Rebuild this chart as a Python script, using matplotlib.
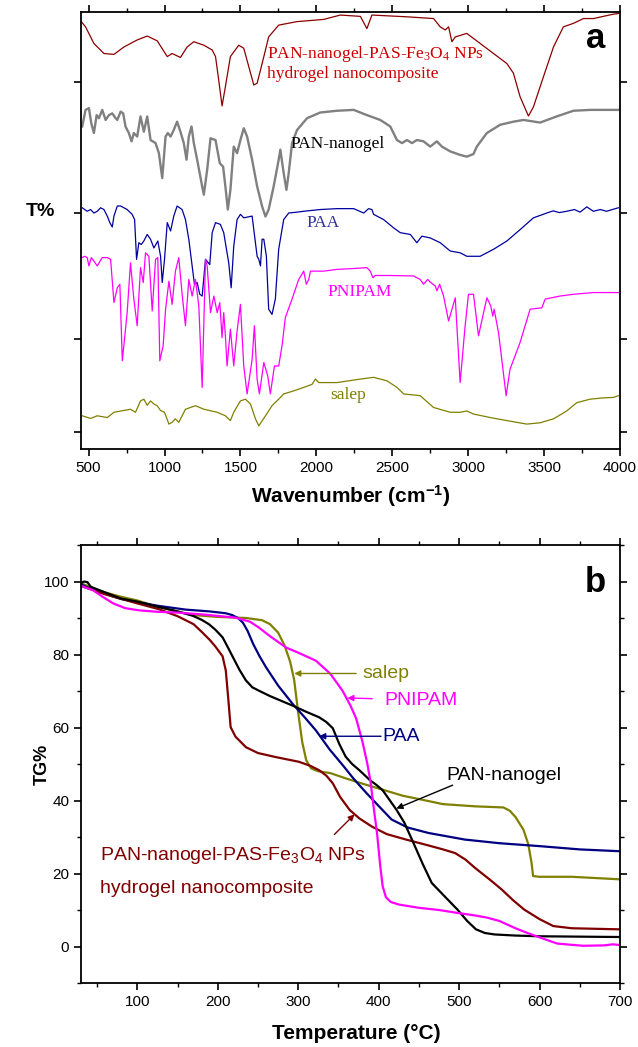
import matplotlib
matplotlib.use('Agg')
import matplotlib.pyplot as plt
from matplotlib.ticker import MultipleLocator, FixedLocator, NullFormatter

plt.rcParams['font.family'] = ['Liberation Sans', 'DejaVu Sans']

# ---------------- FTIR data (panel a) ----------------
comp_w = [447, 480, 535, 601, 667, 733, 820, 886, 952, 1018, 1050, 1105, 1149, 1193, 1259, 1314, 1336, 1357,
          1379, 1401, 1434, 1489, 1522, 1555, 1588, 1610, 1643, 1686, 1752, 1873, 2048, 2158, 2290, 2333, 2366,
          2597, 2772, 2816, 2849, 2871, 2893, 2915, 2991, 3079, 3167, 3255, 3298, 3342, 3397, 3430, 3496, 3562,
          3627, 3693, 3759, 3825, 3890, 3956, 4000]
comp_t = [98.0, 96.6, 92.8, 90.5, 90.3, 92.0, 93.6, 94.5, 93.4, 89.8, 90.5, 89.6, 92.0, 93.2, 92.4, 91.3, 89.8,
          84.4, 78.5, 82.9, 89.8, 92.4, 91.7, 87.5, 83.3, 83.7, 88.2, 94.3, 97.0, 97.8, 98.3, 99.3, 99.0, 96.2,
          99.3, 98.9, 98.5, 96.6, 95.9, 96.6, 93.2, 94.3, 95.1, 92.8, 90.5, 88.2, 86.0, 80.6, 76.2, 78.3, 85.2,
          92.0, 96.6, 97.4, 98.5, 98.5, 99.0, 99.5, 99.7]

pan_w = [458, 480, 502, 518, 535, 553, 568, 590, 612, 634, 656, 678, 689, 711, 728, 743, 765, 783, 798, 820,
         842, 864, 886, 908, 941, 963, 985, 1007, 1022, 1040, 1061, 1083, 1105, 1127, 1145, 1160, 1178, 1193,
         1215, 1248, 1259, 1281, 1303, 1336, 1364, 1386, 1401, 1417, 1434, 1456, 1478, 1500, 1522, 1544, 1577,
         1610, 1643, 1665, 1686, 1719, 1752, 1763, 1785, 1803, 1818, 1840, 1873, 1939, 2026, 2136, 2246, 2333,
         2421, 2487, 2531, 2564, 2597, 2630, 2662, 2706, 2750, 2794, 2827, 2882, 2947, 2991, 3035, 3057, 3123,
         3211, 3298, 3364, 3474, 3583, 3693, 3803, 4000]
pan_t = [73.8, 77.6, 78.0, 74.5, 72.3, 76.4, 75.7, 77.6, 75.3, 76.4, 76.8, 75.7, 75.3, 77.2, 76.8, 73.8, 72.3,
         70.4, 72.3, 71.5, 76.1, 72.6, 76.1, 70.7, 70.0, 67.7, 62.0, 71.5, 72.3, 71.5, 73.0, 74.9, 72.6, 70.0,
         66.2, 71.5, 73.8, 70.0, 66.2, 60.1, 58.2, 63.9, 71.1, 70.7, 65.4, 64.6, 60.1, 54.8, 59.3, 69.2, 67.7,
         70.7, 73.4, 71.5, 66.2, 60.1, 55.5, 53.2, 54.8, 60.1, 66.2, 68.5, 63.1, 59.3, 63.1, 70.0, 73.0, 75.7,
         77.0, 77.4, 77.6, 76.4, 75.3, 73.8, 70.7, 70.0, 70.7, 70.0, 70.7, 70.4, 69.2, 70.4, 69.2, 68.1, 67.3,
         66.9, 67.5, 69.2, 72.3, 74.2, 74.9, 75.3, 74.7, 76.1, 77.4, 77.6, 77.6]

paa_w = [458, 491, 513, 535, 557, 579, 601, 623, 640, 656, 667, 689, 711, 754, 787, 803, 816, 831, 847, 864,
         886, 908, 930, 956, 974, 985, 1000, 1018, 1040, 1061, 1083, 1116, 1138, 1160, 1182, 1197, 1215, 1232,
         1248, 1270, 1298, 1314, 1336, 1368, 1390, 1423, 1439, 1456, 1478, 1500, 1522, 1577, 1610, 1621, 1632,
         1643, 1654, 1671, 1686, 1708, 1730, 1752, 1785, 1818, 1873, 1917, 2026, 2136, 2246, 2312, 2344, 2366,
         2377, 2443, 2509, 2553, 2619, 2662, 2695, 2750, 2816, 2882, 2947, 2991, 3079, 3167, 3255, 3342, 3430,
         3518, 3560, 3600, 3649, 3700, 3737, 3781, 3825, 3870, 3912, 3950, 3989]
paa_t = [55.2, 54.4, 54.8, 54.0, 54.4, 55.2, 54.8, 53.3, 51.8, 50.8, 53.3, 55.6, 55.6, 54.8, 53.7, 52.5, 43.4,
         47.2, 46.8, 47.6, 49.1, 48.0, 46.0, 47.6, 44.1, 38.1, 43.4, 51.8, 49.9, 53.3, 55.6, 54.8, 52.5, 48.0,
         41.9, 37.7, 38.1, 35.4, 35.0, 43.4, 42.2, 49.5, 51.8, 51.4, 49.5, 42.6, 36.9, 46.4, 52.5, 53.7, 52.9,
         53.3, 44.1, 43.4, 41.9, 48.0, 48.0, 44.1, 32.0, 30.8, 34.3, 45.7, 52.5, 54.0, 54.2, 54.4, 54.8, 55.0,
         55.0, 54.0, 55.0, 54.8, 53.7, 52.5, 50.6, 49.5, 49.1, 47.2, 48.7, 48.3, 47.2, 45.3, 44.9, 44.1, 44.1,
         45.7, 47.6, 50.2, 52.9, 54.0, 54.5, 54.1, 54.4, 54.8, 54.2, 55.4, 54.4, 54.8, 54.4, 54.8, 55.2]

pni_w = [458, 474, 491, 502, 518, 535, 557, 590, 623, 645, 667, 689, 706, 722, 754, 776, 798, 820, 842, 860,
         875, 897, 919, 941, 956, 969, 991, 1007, 1029, 1050, 1072, 1094, 1116, 1138, 1160, 1182, 1204, 1226,
         1248, 1270, 1281, 1303, 1325, 1347, 1364, 1379, 1390, 1401, 1412, 1434, 1456, 1478, 1500, 1522, 1544,
         1577, 1592, 1610, 1625, 1654, 1680, 1697, 1724, 1752, 1774, 1796, 1840, 1884, 1917, 1934, 1950, 1961,
         2048, 2136, 2246, 2333, 2355, 2373, 2388, 2487, 2640, 2684, 2706, 2733, 2750, 2783, 2794, 2812, 2838,
         2871, 2915, 2947, 2980, 3002, 3035, 3068, 3123, 3149, 3162, 3171, 3200, 3250, 3276, 3342, 3408, 3485,
         3507, 3605, 3693, 3825, 3989]
pni_t = [43.8, 44.1, 43.8, 41.9, 43.8, 43.0, 41.9, 43.8, 43.8, 43.4, 33.5, 36.9, 37.7, 20.2, 31.2, 42.6, 34.3,
         28.2, 41.5, 38.1, 44.9, 44.1, 31.6, 43.4, 43.8, 20.2, 23.6, 32.0, 38.4, 33.1, 40.7, 43.8, 35.4, 28.2,
         38.8, 35.0, 38.8, 32.7, 14.1, 43.4, 41.9, 31.2, 35.0, 31.2, 33.5, 25.5, 31.2, 25.9, 19.0, 27.4, 19.0,
         27.0, 33.1, 19.0, 12.6, 20.5, 28.2, 16.0, 12.6, 19.8, 16.7, 12.6, 19.0, 19.0, 23.6, 30.1, 34.3, 38.8,
         40.7, 37.7, 38.8, 40.7, 40.7, 41.1, 41.3, 41.5, 40.7, 39.2, 39.7, 39.7, 39.6, 38.8, 37.7, 38.8, 38.2,
         37.3, 36.2, 37.7, 35.0, 29.3, 34.6, 15.2, 28.2, 35.4, 35.4, 25.9, 34.6, 32.7, 30.4, 32.0, 26.6, 12.2,
         18.3, 24.4, 32.0, 32.3, 34.3, 35.0, 35.4, 35.8, 35.8]

sal_w = [458, 513, 557, 623, 667, 776, 809, 842, 864, 886, 908, 930, 952, 974, 1000, 1029, 1050, 1072, 1094,
         1138, 1204, 1259, 1347, 1401, 1434, 1456, 1500, 1533, 1566, 1599, 1621, 1665, 1708, 1752, 1785, 1851,
         1917, 1972, 1994, 2016, 2136, 2290, 2377, 2465, 2531, 2575, 2684, 2772, 2882, 2947, 2991, 3035, 3145,
         3255, 3386, 3474, 3562, 3649, 3715, 3803, 3890, 3956, 3989]
sal_t = [7.6, 7.0, 7.6, 7.2, 8.4, 9.1, 8.4, 11.0, 11.4, 10.0, 11.0, 10.3, 9.9, 8.8, 8.4, 5.7, 6.1, 6.9, 6.1,
         9.1, 9.9, 9.1, 8.4, 7.6, 6.5, 8.4, 11.0, 11.4, 10.3, 6.9, 5.3, 7.6, 9.9, 11.4, 12.6, 13.3, 14.1, 14.8,
         16.0, 15.2, 15.2, 16.0, 16.4, 15.6, 14.1, 12.6, 12.2, 9.5, 8.4, 8.4, 8.7, 8.0, 7.2, 6.5, 5.7, 6.0, 6.9,
         8.7, 10.6, 11.4, 11.7, 11.8, 12.2]

wn_ticks = [500, 1000, 1500, 2000, 2500, 3000, 3500, 4000]

# ---------------- TG data (panel b) ----------------
sal_T = [30, 40, 60, 80, 100, 125, 150, 170, 200, 235, 255, 265, 275, 283, 290, 295, 300, 305, 310, 316, 325,
         340, 360, 380, 400, 430, 450, 480, 520, 555, 563, 570, 580, 586, 590, 592, 600, 640, 700]
sal_G = [99.5, 98.6, 97.0, 95.8, 94.8, 93.1, 91.8, 90.8, 90.3, 90.0, 89.4, 88.3, 86.0, 82.5, 78.0, 73.0, 64.0,
         56.0, 51.0, 48.8, 48.0, 47.5, 46.0, 44.6, 43.3, 41.3, 40.4, 39.0, 38.4, 38.1, 37.2, 35.5, 32.0, 28.0,
         23.0, 19.3, 19.1, 19.1, 18.4]

pni_T = [30, 45, 57, 70, 85, 102, 125, 148, 180, 222, 240, 251, 265, 285, 300, 322, 340, 355, 365, 372, 380,
         386, 390, 393, 398, 402, 405, 409, 415, 425, 450, 475, 498, 520, 535, 550, 570, 585, 600, 622, 654, 680,
         691, 700]
pni_G = [98.8, 97.6, 95.8, 94.0, 92.7, 92.1, 91.7, 91.5, 91.0, 90.1, 89.0, 87.4, 85.0, 81.9, 80.5, 78.3, 74.7,
         70.1, 66.0, 62.5, 56.0, 50.0, 45.0, 39.5, 31.0, 22.0, 16.5, 13.5, 12.2, 11.5, 10.6, 10.0, 9.2, 8.5, 7.9,
         7.0, 5.0, 3.7, 2.5, 0.8, 0.2, 0.3, 0.6, 0.4]

paa_T = [30, 44, 60, 80, 100, 127, 160, 190, 210, 218, 225, 231, 237, 244, 252, 260, 275, 293, 308, 322, 339,
         356, 368, 376, 385, 397, 416, 436, 462, 507, 550, 600, 650, 700]
paa_G = [99.2, 97.8, 96.6, 95.2, 94.3, 93.3, 92.3, 91.8, 91.3, 90.8, 90.0, 88.8, 86.5, 82.9, 79.5, 76.5, 71.5,
         66.5, 62.8, 59.2, 54.0, 49.5, 46.2, 44.2, 42.0, 39.2, 34.8, 32.6, 31.1, 29.3, 28.3, 27.5, 26.6, 26.1]

pan_T = [30, 34, 38, 42, 46, 60, 80, 100, 127, 150, 169, 180, 189, 197, 206, 212, 219, 227, 235, 243, 251,
         265, 280, 293, 310, 326, 335, 343, 351, 359, 367, 376, 389, 397, 405, 414, 422, 432, 445, 455, 466, 480,
         498, 510, 521, 532, 544, 570, 600, 700]
pan_G = [99.6, 100.0, 99.8, 98.6, 98.2, 97.0, 95.3, 94.5, 93.0, 91.8, 90.6, 89.5, 88.3, 86.8, 84.7, 82.2, 79.2,
         75.8, 72.9, 71.0, 70.1, 68.6, 67.2, 66.0, 64.3, 62.8, 61.5, 59.8, 55.5, 52.0, 50.0, 48.3, 45.6, 44.3,
         42.8, 40.0, 37.5, 33.9, 27.5, 22.5, 17.4, 14.2, 10.1, 7.0, 4.7, 3.7, 3.3, 3.0, 2.8, 2.6]

cmp_T = [30, 60, 100, 127, 150, 170, 181, 190, 197, 201, 206, 210, 213, 216, 222, 235, 250, 272, 301, 315, 326,
         335, 343, 352, 364, 376, 392, 410, 434, 460, 480, 495, 508, 520, 540, 553, 567, 581, 600, 617, 640, 700]
cmp_G = [98.8, 96.5, 94.0, 92.4, 90.5, 88.3, 86.0, 84.0, 82.2, 81.0, 79.5, 75.6, 68.0, 60.1, 57.5, 54.6, 53.0,
         51.9, 50.6, 49.5, 48.3, 46.8, 44.7, 41.0, 37.4, 35.1, 32.8, 30.8, 29.3, 27.8, 26.6, 25.6, 23.8, 21.5,
         18.0, 15.6, 12.7, 10.1, 7.5, 5.6, 5.0, 4.7]

fig = plt.figure(figsize=(6.38, 10.47), dpi=100)
ax1 = fig.add_axes([81/638, 1-449/1047, 539/638, 437/1047])
ax2 = fig.add_axes([81/638, 1-983/1047, 539/638, 438/1047])

# ---------------- panel a ----------------
ax1.plot(comp_w, comp_t, color='#8b0000', lw=0.9)
ax1.plot(pan_w, pan_t, color='#808080', lw=1.7)
ax1.plot(paa_w, paa_t, color='#0000a0', lw=0.9)
ax1.plot(pni_w, pni_t, color='#ff00ff', lw=0.9)
ax1.plot(sal_w, sal_t, color='#808000', lw=0.9)
ax1.set_xlim(450, 4000)
ax1.set_ylim(0, 100)
ax1.set_xticks(wn_ticks)
ax1.xaxis.set_minor_locator(MultipleLocator(250))
ax1.yaxis.set_major_locator(FixedLocator([3.9, 25.1, 53.9, 84.0]))
ax1.yaxis.set_major_formatter(NullFormatter())
ax1.tick_params(axis='x', which='both', direction='out', top=True, labelsize=11)
ax1.tick_params(axis='y', which='both', direction='out', right=True)
ax1.tick_params(which='major', length=5, width=1.2)
ax1.tick_params(which='minor', length=3, width=1.0)
for s in ax1.spines.values():
    s.set_linewidth(1.3)
ax1.set_xlabel('Wavenumber (cm$\\mathregular{^{-1}}$)', fontsize=15, fontweight='bold')
ax1.xaxis.set_label_coords(0.5, -0.078)
ax1.set_ylabel('T%', fontsize=14, fontweight='bold', rotation=0)
ax1.yaxis.set_label_coords(-0.076, 0.523)

serif = ['Liberation Serif', 'DejaVu Serif']
ax1.text(1676, 89.4, 'PAN-nanogel-PAS-Fe$\\mathregular{_3}$O$\\mathregular{_4}$ NPs', color='#cc0000',
         fontsize=12.5, family=serif, va='baseline')
ax1.text(1676, 84.9, 'hydrogel nanocomposite', color='#cc0000', fontsize=12.5, family=serif, va='baseline')
ax1.text(1829, 68.9, 'PAN-nanogel', color='black', fontsize=12.5, family=serif, va='baseline')
ax1.text(1934, 50.9, 'PAA', color='#333399', fontsize=12.5, family=serif, va='baseline')
ax1.text(2070, 34.9, 'PNIPAM', color='#ff00ff', fontsize=12.5, family=serif, va='baseline')
ax1.text(2092, 11.4, 'salep', color='#808000', fontsize=12.5, family=serif, va='baseline')
ax1.text(0.955, 0.94, 'a', transform=ax1.transAxes, fontsize=25, fontweight='bold', ha='center', va='center')

# ---------------- panel b ----------------
ax2.plot(sal_T, sal_G, color='#808000', lw=1.6)
ax2.plot(paa_T, paa_G, color='#000080', lw=1.6)
ax2.plot(cmp_T, cmp_G, color='#800000', lw=1.6)
ax2.plot(pan_T, pan_G, color='black', lw=1.6)
ax2.plot(pni_T, pni_G, color='#ff00ff', lw=1.6)
ax2.set_xlim(30, 700)
ax2.set_ylim(-10, 110)
ax2.set_xticks([100, 200, 300, 400, 500, 600, 700])
ax2.xaxis.set_minor_locator(MultipleLocator(50))
ax2.set_yticks([0, 20, 40, 60, 80, 100])
ax2.yaxis.set_minor_locator(MultipleLocator(10))
ax2.tick_params(which='both', direction='out', top=True, right=True, labelsize=11)
ax2.tick_params(which='major', length=5, width=1.2)
ax2.tick_params(which='minor', length=3, width=1.0)
for s in ax2.spines.values():
    s.set_linewidth(1.3)
ax2.set_xlabel('Temperature (°C)', fontsize=15, fontweight='bold')
ax2.xaxis.set_label_coords(0.51, -0.094)
ax2.set_ylabel('TG%', fontsize=13, fontweight='bold')
ax2.yaxis.set_label_coords(-0.056, 0.5)
ax2.text(0.955, 0.915, 'b', transform=ax2.transAxes, fontsize=25, fontweight='bold', ha='center', va='center')

arrow_kw = dict(arrowstyle='-|>', lw=1.0, mutation_scale=9, shrinkA=0, shrinkB=0)

ax2.annotate('', xy=(295, 74.8), xytext=(372, 74.8), arrowprops=dict(color='#808000', **arrow_kw))
ax2.text(380, 74.7, 'salep', color='#808000', fontsize=14, va='center')
ax2.annotate('', xy=(361, 68.1), xytext=(392, 67.9), arrowprops=dict(color='#ff00ff', **arrow_kw))
ax2.text(407, 67.4, 'PNIPAM', color='#ff00ff', fontsize=14, va='center')
ax2.annotate('', xy=(326, 57.6), xytext=(403, 57.6), arrowprops=dict(color='#000080', **arrow_kw))
ax2.text(405, 57.6, 'PAA', color='#000080', fontsize=14, va='center')
ax2.annotate('', xy=(422, 37.8), xytext=(492, 44.2), arrowprops=dict(color='black', **arrow_kw))
ax2.text(484, 46.9, 'PAN-nanogel', color='black', fontsize=14, va='center')
ax2.annotate('', xy=(370, 36.2), xytext=(345, 30.7), arrowprops=dict(color='#800000', **arrow_kw))
ax2.text(54, 23.7, 'PAN-nanogel-PAS-Fe$\\mathregular{_3}$O$\\mathregular{_4}$ NPs', color='#800000',
         fontsize=14, va='baseline')
ax2.text(54, 14.7, 'hydrogel nanocomposite', color='#800000', fontsize=14, va='baseline')

fig.savefig('out.png', dpi=100)
